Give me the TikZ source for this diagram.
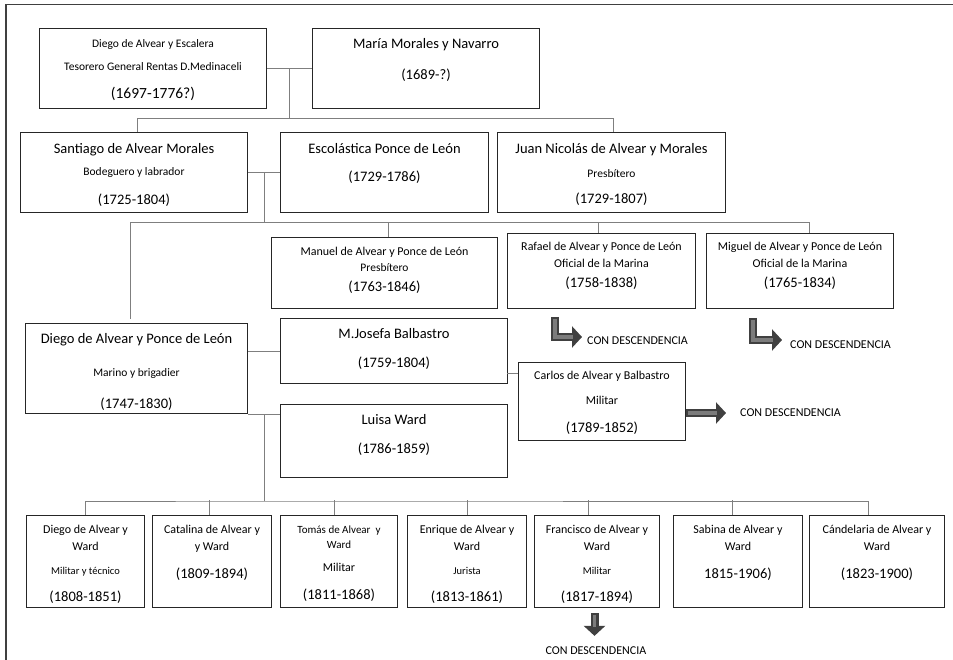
\documentclass[tikz,border=0pt]{standalone}
\usepackage{fontspec}
\setmainfont{Carlito}
\usetikzlibrary{arrows.meta, positioning, calc}
\definecolor{famLine}{HTML}{7F7F7F}
\definecolor{famBox}{HTML}{262626}
\definecolor{famArr}{HTML}{404040}
\definecolor{famArrIn}{HTML}{7C7C7C}

\newcommand{\famName}{\fontsize{14.5}{20}\selectfont}
\newcommand{\famSmall}{\fontsize{11.5}{20}\selectfont}
\newcommand{\famKid}{\fontsize{12}{20}\selectfont}
\newcommand{\famTiny}{\fontsize{10.5}{20}\selectfont}

\begin{document}
\begin{tikzpicture}[
    x=1pt, y=-1pt,
    % --- box styles (text height = top to last baseline) ---
    person/.style={draw=famBox, line width=1pt, anchor=north west,
        inner xsep=0pt, inner ysep=0pt, align=center, font=\famName},
    kid/.style={person, text height=86pt, text depth=6pt},
    desc/.style={font=\famKid, inner sep=1pt},
    % --- line styles ---
    conn/.style={draw=famLine, line width=0.9pt},
    descarr/.style={draw=famArr, line width=8pt,
        -{Triangle[length=10pt, width=21pt]}},
    descin/.style={draw=famArrIn, line width=3.5pt},
]
\path[fill=white] (0,0) rectangle (953,660);
\useasboundingbox (0,0) rectangle (953,660);

% frame
\draw[draw=black!75, line width=1.5pt] (953,4.5) -| (6,660);

% ===== FIRST GENERATION =====================================================
\node[person, minimum width=227pt, text height=70pt, text depth=10pt] (dA) at (39,28)
    {{\famSmall Diego de Alvear y Escalera}\\[3pt]
     {\famSmall Tesorero General Rentas D.Medinaceli}\\[8pt]
     {\fontsize{15.5}{20}\selectfont (1697-1776?)}};
\node[person, minimum width=227pt, text height=51pt, text depth=29pt] (mB) at (312,28)
    {María Morales y Navarro\\[11pt](1689-?)};

\draw[conn] (dA.east) -- (mB.west);
\draw[conn] ($(dA.east)!.5!(mB.west)$) -- ++(0,50) coordinate (bus1);

% ===== SECOND GENERATION ====================================================
\node[person, minimum width=227pt, text height=72pt, text depth=8pt] (sant) at (20,132)
    {Santiago de Alvear Morales\\[2pt]{\famSmall Bodeguero y labrador}\\[9pt](1725-1804)};
\node[person, minimum width=208pt, text height=49pt, text depth=31pt] (esco) at (280,132)
    {Escolástica Ponce de León\\[8pt](1729-1786)};
\node[person, minimum width=228pt, text height=71pt, text depth=9pt] (juan) at (497,132)
    {Juan Nicolás de Alvear y Morales\\[4pt]{\famSmall Presbítero}\\[6pt](1729-1807)};

\draw[conn] ([xshift=3.5pt]sant.north) |- (bus1) -| ([xshift=2pt]juan.north);
\draw[conn] (sant.east) -- (esco.west);
\draw[conn] ($(sant.east)!.5!(esco.west)$) -- ++(0,50) coordinate (bus2);

% ===== THIRD GENERATION =====================================================
\node[person, minimum width=226pt, text height=54pt, text depth=17pt] (manu) at (271,237)
    {{\famKid Manuel de Alvear y Ponce de León}\\[-4pt]{\famSmall Presbítero}\\[0pt](1763-1846)};
\node[person, minimum width=188pt, text height=54pt, text depth=21pt] (rafa) at (507,233)
    {{\famKid Rafael de Alvear y Ponce de León}\\[-3pt]{\famKid Oficial de la Marina}\\[0pt](1758-1838)};
\node[person, minimum width=187pt, text height=54pt, text depth=21pt] (migu) at (706,233)
    {{\famKid Miguel de Alvear y Ponce de León}\\[-3pt]{\famKid Oficial de la Marina}\\[0pt](1765-1834)};
\node[person, minimum width=222pt, text height=85pt, text depth=5pt] (dpl) at (25,323)
    {Diego de Alvear y Ponce de León\\[13pt]{\famSmall Marino y brigadier}\\[12pt](1747-1830)};
\node[person, minimum width=227pt, text height=49pt, text depth=16pt] (mjos) at (280,318)
    {M.Josefa Balbastro\\[9pt](1759-1804)};
\node[person, minimum width=227pt, text height=49pt, text depth=24pt] (luis) at (280,404)
    {Luisa Ward\\[9pt](1786-1859)};
\node[person, minimum width=167pt, text height=70pt, text depth=8pt] (carl) at (518,362)
    {{\famKid Carlos de Alvear y Balbastro}\\[5pt]{\famKid Militar}\\[8pt](1789-1852)};

\draw[conn] ([xshift=-6pt, yshift=4pt]dpl.north) |- (bus2) -| ([xshift=9.5pt]migu.north);
\draw[conn] ([xshift=4pt]manu.north) -- ++(0,-15);
\draw[conn] ([xshift=-3pt]rafa.north) -- ++(0,-11);
\draw[conn] (mjos.west -| dpl.east) -- (mjos.west);
\draw[conn] (dpl.south east) -- (dpl.south east -| luis.west);
\draw[conn] ([yshift=-11pt]carl.north west) -- ++(-11,0);
\draw[conn] ($(dpl.south east)!.5!(dpl.south east -| luis.west)$) -- ++(0,87) coordinate (bus3);

% -- descendants arrows --
\node[desc, anchor=west] (descRafa) at (586,341) {CON DESCENDENCIA};
\coordinate (aRafa) at (555,317);
\draw[descarr, shorten >=4pt] (aRafa) |- ([yshift=4pt]descRafa.west);
\draw[descin] ([yshift=-2pt]aRafa) |- ([xshift=-13pt, yshift=4pt]descRafa.west);

\node[desc, anchor=west] (descMigu) at (789,345) {CON DESCENDENCIA};
\coordinate (aMigu) at (753,318);
\draw[descarr, shorten >=7pt] (aMigu) |- ([yshift=5pt]descMigu.west);
\draw[descin] ([yshift=-2pt]aMigu) |- ([xshift=-16pt, yshift=5pt]descMigu.west);

\node[desc, anchor=west] (descCarl) at (739,413) {CON DESCENDENCIA};
\draw[descarr, shorten >=13pt] (carl.east |- descCarl.west) -- (descCarl.west);
\draw[descin] ([xshift=2pt]carl.east |- descCarl.west) -- ([xshift=-22pt]descCarl.west);

% ===== FOURTH GENERATION ====================================================
\node[kid, minimum width=118pt] (kid1) at (26,515)
    {{\famKid Diego de Alvear y}\\[-3pt]{\famKid Ward}\\[4pt]{\famTiny Militar y técnico}\\[7pt](1808-1851)};
\node[kid, minimum width=119pt, text height=63pt, text depth=29pt] (kid2) at (152,515)
    {{\famKid Catalina de Alvear y}\\[-3pt]{\famKid y Ward}\\[8pt](1809-1894)};
\node[kid, minimum width=117pt, text height=84pt, text depth=8pt] (kid3) at (280,515)
    {{\fontsize{11}{20}\selectfont Tomás de Alvear\ \ y}\\[-5pt]{\fontsize{11}{20}\selectfont Ward}\\[3pt]{\famKid Militar}\\[8pt](1811-1868)};
\node[kid, minimum width=119pt] (kid4) at (407,515)
    {{\famKid Enrique de Alvear y}\\[-3pt]{\famKid Ward}\\[4pt]{\famTiny Jurista}\\[7pt](1813-1861)};
\node[kid, minimum width=125pt] (kid5) at (534,515)
    {{\famKid Francisco de Alvear y}\\[-3pt]{\famKid Ward}\\[4pt]{\famTiny Militar}\\[7pt](1817-1894)};
\node[kid, minimum width=129pt, text height=63pt, text depth=29pt] (kid6) at (673,515)
    {{\famKid Sabina de Alvear y}\\[-3pt]{\famKid Ward}\\[8pt]1815-1906)};
\node[kid, minimum width=135pt, text height=63pt, text depth=29pt] (kid7) at (809,515)
    {{\famKid Cándelaria de Alvear y}\\[-3pt]{\famKid Ward}\\[8pt](1823-1900)};

\draw[conn] (kid1.north) |- (bus3) -| ([xshift=-8.5pt]kid7.north);
\foreach \k/\s in {kid2/-2.5, kid3/-4.5, kid4/0, kid5/-8.5, kid6/-5.5}
    \draw[conn] ([xshift=\s pt]\k.north) -- ++(0,-15);

\node[desc] (descFran) at (596,651) {CON DESCENDENCIA};
\coordinate (aFran) at ([xshift=-2.5pt, yshift=-5pt]kid5.south);
\draw[descarr, shorten >=10pt] (aFran) -- (aFran |- descFran.north);
\draw[descin] ([yshift=-2pt]aFran) -- ([yshift=19pt]aFran |- descFran.north);

\end{tikzpicture}
\end{document}
